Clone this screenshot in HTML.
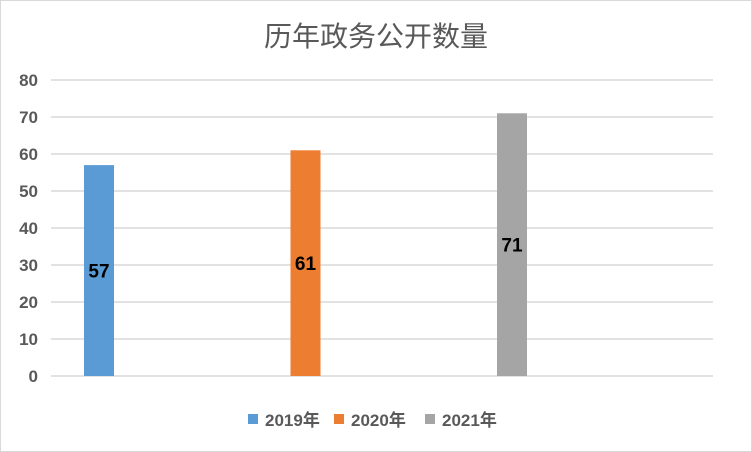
<!DOCTYPE html>
<html><head><meta charset="utf-8"><style>
body{margin:0;background:#fff}
#c{position:relative;width:752px;height:452px;overflow:hidden}
text{font-family:"Liberation Sans","Noto Sans CJK SC",sans-serif}
</style></head><body>
<div id="c">
<svg id="s" width="752" height="452">
<rect x="0.5" y="0.5" width="751" height="451" fill="#fff" stroke="#d9d9d9"/>
<text x="376" y="46" text-anchor="middle" font-size="28" fill="#595959">历年政务公开数量</text>
<g id="grid"></g><g id="bars"></g><g id="legend"></g>
</svg>
</div>
<script>
const categories=["2019年","2020年","2021年"];
const values=[57,61,71];
const colors=["#5b9bd5","#ed7d31","#a5a5a5"];
const ticks=[0,10,20,30,40,50,60,70,80];
const ns="http://www.w3.org/2000/svg";
const y0=376,yTop=80,maxV=80,x0=51,x1=713;
function y(v){return y0-(v/maxV)*(y0-yTop);}
function xb(i){return 84+i*206.5;}
const g=document.getElementById('grid'),b=document.getElementById('bars'),lg=document.getElementById('legend');
function mk(t,a,p){const e=document.createElementNS(ns,t);for(const k in a)e.setAttribute(k,a[k]);p.appendChild(e);return e;}
ticks.forEach(t=>{
 const l=mk('line',{x1:x0,x2:x1,y1:y(t),y2:y(t),stroke:'#d9d9d9','stroke-width':1.5},g);
 
 
 const tx=mk('text',{x:38,y:y(t)+6,'text-anchor':'end','font-size':17,'font-weight':'bold',fill:'#595959'},g);
 tx.textContent=t;
 
 
});
values.forEach((v,i)=>{
 const r=mk('rect',{x:xb(i),y:y(v),width:30,height:y0-y(v),fill:colors[i]},b);
 
 
 const t=mk('text',{x:xb(i)+15,y:(y(v)+y0)/2+7,'text-anchor':'middle','font-size':19,'font-weight':'bold',fill:'#000'},b);
 t.textContent=v;
 
 
});
const lx=[248,334,425];
categories.forEach((c,i)=>{
 const r=mk('rect',{x:lx[i],y:414,width:10,height:10,fill:colors[i]},lg);
 
 
 const t=mk('text',{x:lx[i]+17,y:426,'font-size':17,'font-weight':'bold',fill:'#595959'},lg);
 t.textContent=c;
 
 
});
</script>
</body></html>
